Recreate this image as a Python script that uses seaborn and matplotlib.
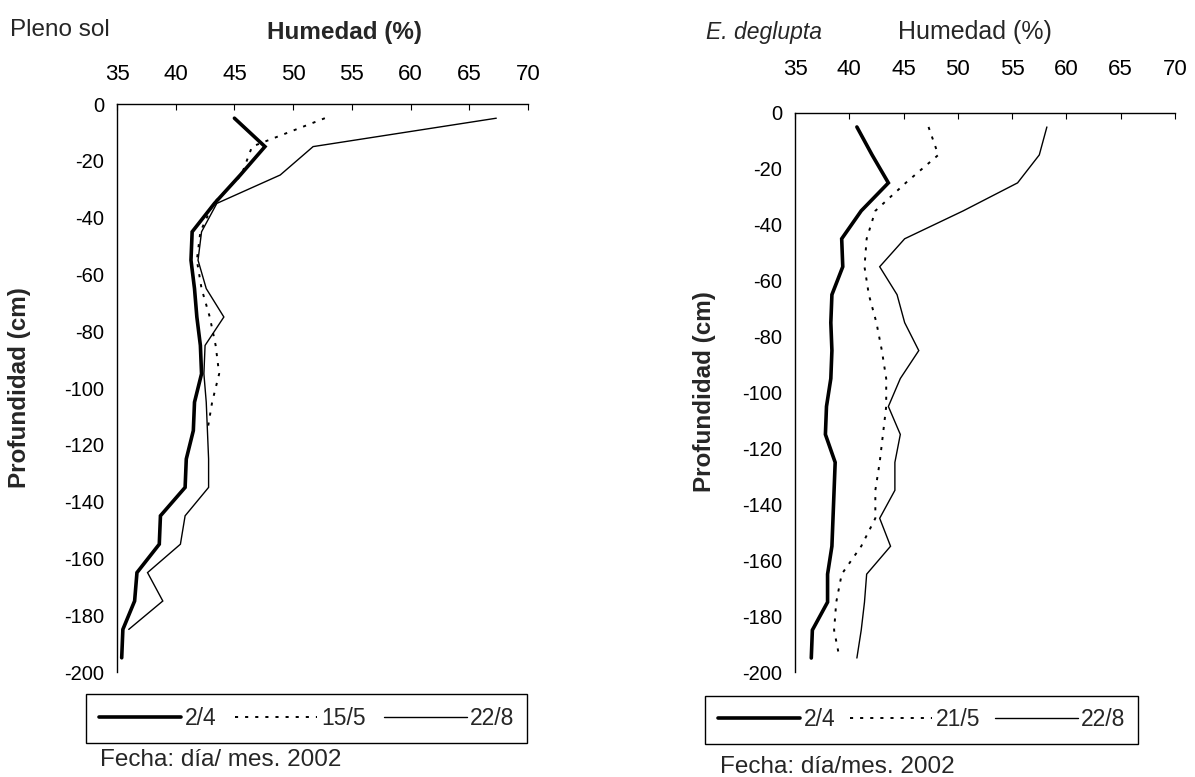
import matplotlib
matplotlib.use("Agg")
import matplotlib.pyplot as plt
import pandas as pd
import seaborn as sns

# Depth of each soil moisture reading (cm)
depth = [-5, -15, -25, -35, -45, -55, -65, -75, -85, -95,
         -105, -115, -125, -135, -145, -155, -165, -175, -185, -195]

# Pleno sol: soil moisture (%) per sampling date
sol_0204 = [45.0, 47.6, 45.5, 43.3, 41.4, 41.3, 41.6, 41.8, 42.1, 42.2,
            41.6, 41.5, 40.9, 40.8, 38.7, 38.6, 36.7, 36.5, 35.5, 35.4]
sol_1505 = [52.7, 46.5, 45.6, 43.2, 42.1, 41.8, 42.2, 42.9, 43.4, 43.7,
            43.1, 42.7]
sol_2208 = [67.3, 51.7, 48.9, 43.5, 42.2, 41.9, 42.6, 44.1, 42.5, 42.4,
            42.6, 42.7, 42.8, 42.8, 40.8, 40.4, 37.6, 38.9, 36.0]

# E. deglupta: soil moisture (%) per sampling date
eu_0204 = [40.7, 42.1, 43.6, 41.1, 39.3, 39.4, 38.4, 38.3, 38.4, 38.3,
           37.9, 37.8, 38.7, 38.6, 38.5, 38.4, 38.0, 38.0, 36.6, 36.5]
eu_2105 = [47.3, 48.2, 45.2, 42.4, 41.6, 41.4, 41.8, 42.5, 43.0, 43.4,
           43.4, 43.1, 42.8, 42.4, 42.4, 41.1, 39.3, 38.8, 38.6, 39.1]
eu_2208 = [58.2, 57.5, 55.5, 50.5, 45.1, 42.8, 44.4, 45.1, 46.4, 44.7,
           43.6, 44.7, 44.2, 44.2, 42.8, 43.8, 41.6, 41.4, 41.1, 40.7]

x_ticks = [35, 40, 45, 50, 55, 60, 65, 70]
y_ticks = [0, -20, -40, -60, -80, -100, -120, -140, -160, -180, -200]

sns.set_style("white")
plt.rcParams["font.family"] = ["Liberation Sans", "DejaVu Sans"]
plt.rcParams["axes.unicode_minus"] = False

W, H = 1195, 777
fig = plt.figure(figsize=(W / 100, H / 100), dpi=100)


def px_axes(x0, y0, x1, y1):
    return fig.add_axes([x0 / W, 1 - y1 / H, (x1 - x0) / W, (y1 - y0) / H])


def px_text(x, y, s, **kw):
    kw.setdefault("va", "center")
    return fig.text(x / W, 1 - y / H, s, **kw)


ax_l = px_axes(117, 104, 528, 672)
ax_r = px_axes(795, 113, 1175, 672)

styles = {
    "thick": dict(lw=2.6, linestyle="-"),
    "dot": dict(lw=1.4, linestyle=(0, (1.6, 3.6))),
    "thin": dict(lw=1.0, linestyle="-"),
}

panels = [
    (ax_l, 14, [("2/4", sol_0204, "thick"), ("15/5", sol_1505, "dot"),
                ("22/8", sol_2208, "thin")]),
    (ax_r, 24, [("2/4", eu_0204, "thick"), ("21/5", eu_2105, "dot"),
                ("22/8", eu_2208, "thin")]),
]

legend_items = {}
for ax, xpad, series in panels:
    for name, vals, st in series:
        df = pd.DataFrame({"Humedad": vals, "Profundidad": depth[:len(vals)]})
        sns.lineplot(data=df, x="Humedad", y="Profundidad", sort=False,
                     estimator=None, color="black", label=name, ax=ax,
                     solid_joinstyle="miter", **styles[st])
    ax.set_xlim(35, 70)
    ax.set_ylim(-200, 0)
    ax.set_xticks(x_ticks)
    ax.set_yticks(y_ticks)
    ax.xaxis.set_ticks_position("top")
    ax.tick_params(axis="x", direction="in", length=4, width=0.8,
                   labelsize=16, pad=xpad, colors="black")
    ax.tick_params(axis="y", direction="out", length=5, width=0.8,
                   labelsize=14.5, pad=4, colors="black")
    for s in ("bottom", "right"):
        ax.spines[s].set_visible(False)
    for s in ("top", "left"):
        ax.spines[s].set_color("black")
        ax.spines[s].set_linewidth(1.0)
    ax.set_xlabel("")
    ax.set_ylabel("")
    legend_items[ax] = ax.get_legend_handles_labels()
    ax.get_legend().remove()

# Titles and axis names
px_text(10, 30, "Pleno sol", fontsize=17.5, ha="left")
px_text(345, 33, "Humedad (%)", fontsize=17.5, fontweight="bold", ha="center")
px_text(20, 388, "Profundidad (cm)", fontsize=17.5, fontweight="bold",
        ha="center", rotation=90)

px_text(706, 32, "E. deglupta", fontsize=16.5, style="italic", ha="left")
px_text(975, 32, "Humedad (%)", fontsize=18, ha="center")
px_text(705, 392, "Profundidad (cm)", fontsize=17.5, fontweight="bold",
        ha="center", rotation=90)

# Legends below each panel
for ax, (x0, y0, x1, y1), note, (nx, ny) in [
    (ax_l, (86, 695, 527, 742), "Fecha: día/ mes. 2002", (100, 760)),
    (ax_r, (705, 693, 1138, 747), "Fecha: día/mes. 2002", (720, 767)),
]:
    handles, labels = legend_items[ax]
    fig.legend(handles, labels, loc="center", ncol=3, mode="expand",
               bbox_to_anchor=(x0 / W, 1 - y1 / H, (x1 - x0) / W, (y1 - y0) / H),
               fontsize=16.5, frameon=True, fancybox=False, edgecolor="black",
               handlelength=3.6, handletextpad=0.15, columnspacing=0.8,
               borderpad=0.55, borderaxespad=0.0, framealpha=1)
    px_text(nx, ny, note, fontsize=17.5, ha="left")

fig.savefig("out.png", dpi=100, facecolor="white")
